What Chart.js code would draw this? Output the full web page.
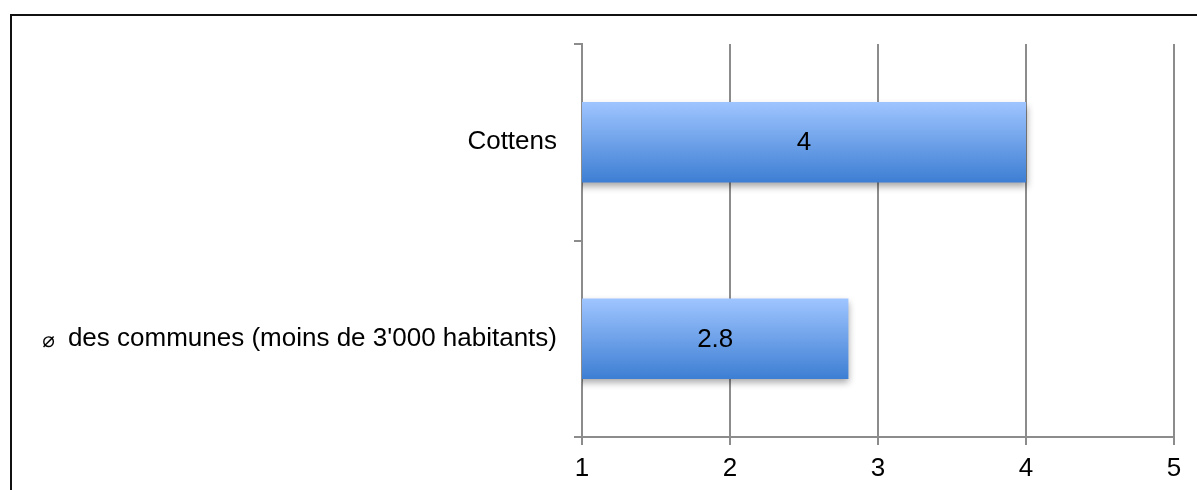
<!DOCTYPE html>
<html>
<head>
<meta charset="utf-8">
<script src="https://cdn.jsdelivr.net/npm/chart.js@4/dist/chart.umd.min.js"></script>
<style>
    html, body { margin: 0; padding: 0; background: #fff; overflow: hidden; }
    #wrap { position: relative; width: 1197px; height: 490px; }
    #frame {
        position: absolute; left: 10px; top: 14px; width: 1300px; height: 600px;
        border-top: 2px solid #111; border-left: 2px solid #111;
    }
    #chart { position: absolute; left: 0; top: 0; }
</style>
</head>
<body>
<div id="wrap">
    <div id="frame"></div>
    <canvas id="chart" width="1197" height="490"></canvas>
</div>
<script>
// Chart data
const categories = ['Cottens', '\u2300 des communes (moins de 3\'000 habitants)'];
const values = [4, 2.8];
const tickValues = [1, 2, 3, 4, 5];

const FONT = '"Liberation Sans", Arial, Helvetica, sans-serif';
const FONT_SIZE = 26;
const GRID = '#8c8c8c';

// Vertical blue gradient per bar, from the bar's top edge to its bottom edge
function barGradient(context) {
    const chart = context.chart;
    const yScale = chart.scales.y;
    if (!chart.chartArea || !yScale) return '#6a9ce8';
    const band = Math.abs(yScale.getPixelForTick(1) - yScale.getPixelForTick(0)) || 196;
    const half = band * 0.41 / 2;
    const cy = yScale.getPixelForValue(context.dataIndex);
    const g = chart.ctx.createLinearGradient(0, cy - half, 0, cy + half);
    g.addColorStop(0, '#9fc5ff');
    g.addColorStop(1, '#3d7ed3');
    return g;
}

// Soft drop shadow under the bars
const barShadow = {
    id: 'barShadow',
    beforeDatasetDraw(chart) {
        const ctx = chart.ctx;
        ctx.save();
        ctx.shadowColor = 'rgba(0, 0, 0, 0.35)';
        ctx.shadowBlur = 7;
        ctx.shadowOffsetX = 1;
        ctx.shadowOffsetY = 4;
    },
    afterDatasetDraw(chart) {
        chart.ctx.restore();
    }
};

// Value written in the middle of the visible part of each bar
const valueLabels = {
    id: 'valueLabels',
    afterDatasetsDraw(chart) {
        const ctx = chart.ctx;
        const meta = chart.getDatasetMeta(0);
        const left = chart.chartArea.left;
        ctx.save();
        ctx.font = FONT_SIZE + 'px ' + FONT;
        ctx.fillStyle = '#000';
        ctx.textAlign = 'center';
        ctx.textBaseline = 'middle';
        meta.data.forEach((bar, i) => {
            const start = Math.max(bar.base, left);
            ctx.fillText(String(values[i]), (bar.x + start) / 2, bar.y + 1);
        });
        ctx.restore();
    }
};

// Split the diameter sign from the rest of the label so it can be drawn smaller
function drawCategoryLabel(ctx, text, right, y) {
    const sign = '\u2300';
    ctx.textAlign = 'right';
    ctx.textBaseline = 'middle';
    ctx.font = FONT_SIZE + 'px ' + FONT;
    if (!text.startsWith(sign)) {
        ctx.fillText(text, right, y);
        return;
    }
    const rest = text.slice(1).trimStart();
    ctx.fillText(rest, right, y);
    const w = ctx.measureText(rest).width;
    ctx.font = '21px "DejaVu Sans", sans-serif';
    ctx.fillText(sign, right - w - 13, y + 3);
}

const categoryLabels = {
    id: 'categoryLabels',
    afterDraw(chart) {
        const ctx = chart.ctx;
        const y = chart.scales.y;
        ctx.save();
        ctx.fillStyle = '#000';
        categories.forEach((c, i) => {
            drawCategoryLabel(ctx, c, chart.chartArea.left - 25, y.getPixelForValue(i));
        });
        ctx.restore();
    }
};

new Chart(document.getElementById('chart'), {
    type: 'bar',
    data: {
        labels: categories,
        datasets: [{
            data: values,
            backgroundColor: barGradient,
            borderWidth: 0,
            barPercentage: 0.41,
            categoryPercentage: 1
        }]
    },
    options: {
        indexAxis: 'y',
        responsive: false,
        animation: false,
        events: [],
        layout: { padding: { top: 44, right: 23, left: 0, bottom: 0 } },
        plugins: {
            legend: { display: false },
            tooltip: { enabled: false }
        },
        scales: {
            x: {
                min: tickValues[0],
                max: tickValues[tickValues.length - 1],
                afterBuildTicks(scale) {
                    scale.ticks = tickValues.map(v => ({ value: v }));
                },
                afterFit(scale) { scale.height = 53; },
                grid: { color: GRID, lineWidth: 2, tickLength: 8 },
                border: { color: GRID, width: 2 },
                ticks: {
                    color: '#000',
                    padding: 8,
                    font: { family: FONT, size: FONT_SIZE }
                }
            },
            y: {
                afterFit(scale) { scale.width = 582; },
                grid: {
                    offset: true,
                    drawOnChartArea: false,
                    color: GRID,
                    lineWidth: 2,
                    tickLength: 8
                },
                border: { color: GRID, width: 2 },
                ticks: {
                    // labels drawn by the categoryLabels plugin
                    color: 'rgba(0,0,0,0)',
                    padding: 16,
                    font: { family: FONT, size: FONT_SIZE }
                }
            }
        }
    },
    plugins: [barShadow, valueLabels, categoryLabels]
});
</script>
</body>
</html>
